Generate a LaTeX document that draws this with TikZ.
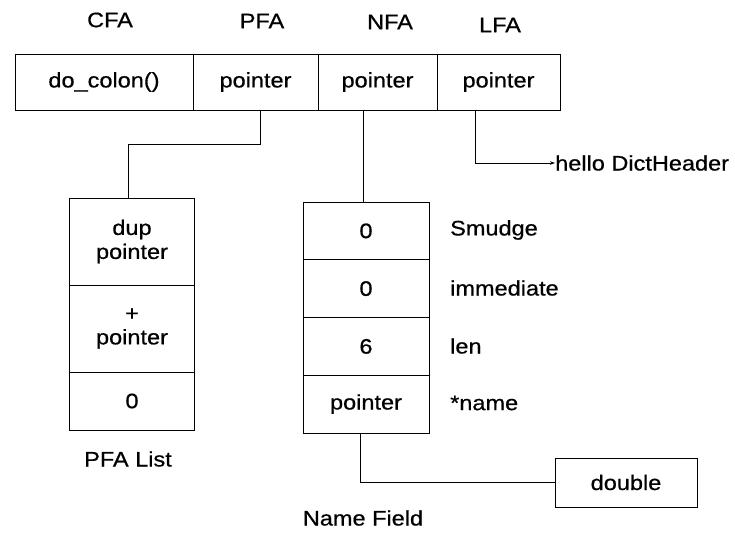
\documentclass[tikz,border=0pt]{standalone}
\usepackage{fontspec}
\setmainfont[FakeStretch=1.12,FakeBold=0.6]{Liberation Sans}
\usetikzlibrary{arrows.meta}
\begin{document}
\begin{tikzpicture}[x=1pt,y=-1pt,
  every node/.style={font=\fontsize{21}{24}\selectfont},
  cell/.style={draw,line width=0.8pt,inner sep=0pt,align=center},
  lbl/.style={inner sep=0pt},
  conn/.style={line width=0.8pt}]
\useasboundingbox (0,0) rectangle (735,532);
% top row
\node[cell,minimum width=178,minimum height=56] (cfa) at (104,82) {do\_colon()};
\node[cell,minimum width=125,minimum height=56] (pfa) at (255.5,82) {pointer};
\node[cell,minimum width=119,minimum height=56] (nfa) at (377.5,82) {pointer};
\node[cell,minimum width=123,minimum height=56] (lfa) at (498.5,82) {pointer};
\node[lbl] (cfal) at (110,20) {CFA};
\node[lbl] (pfal) at (262,21) {PFA};
\node[lbl] (nfal) at (390,22) {NFA};
\node[lbl] (lfal) at (500,25) {LFA};
% PFA list
\node[cell,minimum width=125,minimum height=87] (pl1) at (132,241.5) {dup\\pointer};
\node[cell,minimum width=125,minimum height=87] (pl2) at (132,328.5) {+\\pointer};
\node[cell,minimum width=125,minimum height=58] (pl3) at (132,401) {0};
\node[lbl] (pll) at (128,459) {PFA List};
% name field
\node[cell,minimum width=126,minimum height=57.75] (nf1) at (366,230.9) {0};
\node[cell,minimum width=126,minimum height=57.75] (nf2) at (366,288.6) {0};
\node[cell,minimum width=126,minimum height=57.75] (nf3) at (366,346.4) {6};
\node[cell,minimum width=126,minimum height=57.75] (nf4) at (366,404.1) {pointer};
\node[lbl,anchor=west] (sm) at (450,230) {Smudge};
\node[lbl,anchor=west] (im) at (450,288) {immediate};
\node[lbl,anchor=west] (ln) at (450,346) {len};
\node[lbl,anchor=west] (nm) at (450,403) {*name};
\node[lbl] (nfl) at (363,518) {Name Field};
% double
\node[cell,minimum width=142,minimum height=49] (dbl) at (626,482.5) {double};
% hello
\node[lbl,anchor=west] (hello) at (555,163) {hello DictHeader};
% connectors
\draw[conn] ([xshift=4.5]pfa.south) -- ++(0,34) -| ([xshift=-4]pl1.north);
\draw[conn] ([xshift=-3]nf1.north) -- ([xshift=-3]nf1.north |- nfa.south);
\draw[conn] ([xshift=-6]nf4.south) |- (dbl.west);
\draw[conn,-{Stealth[length=5pt,width=3.5pt]}] ([xshift=-23.5]lfa.south) |- (hello.west);
\end{tikzpicture}
\end{document}
